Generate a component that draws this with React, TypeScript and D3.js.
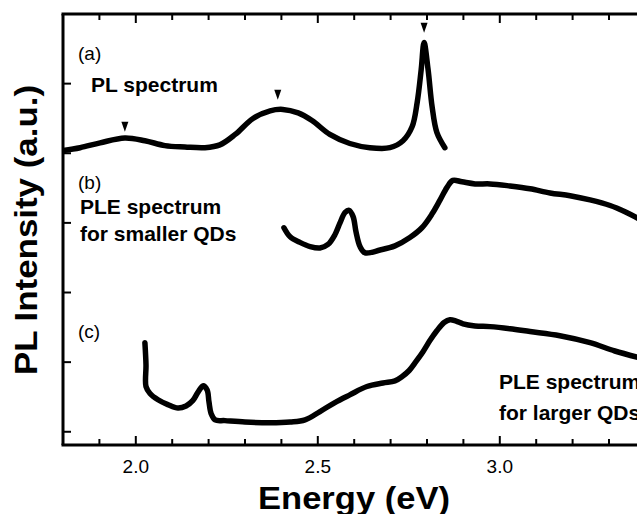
import React from 'react';
import * as d3 from 'd3';

// PL spectrum (a)
const plEnergy = [1.8, 1.847, 1.902, 1.97, 2.025, 2.08, 2.135, 2.19, 2.231, 2.273, 2.322, 2.369, 2.404, 2.446, 2.484, 2.533, 2.588, 2.643, 2.698, 2.734, 2.759, 2.773, 2.784, 2.792, 2.803, 2.814, 2.827, 2.849];
const plIntensity = [4.04, 4.08, 4.15, 4.22, 4.18, 4.11, 4.09, 4.08, 4.12, 4.27, 4.5, 4.61, 4.63, 4.58, 4.47, 4.27, 4.14, 4.08, 4.08, 4.18, 4.38, 4.73, 5.2, 5.59, 5.2, 4.67, 4.3, 4.08];

// PLE spectrum for smaller QDs (b)
const pleSmallEnergy = [2.407, 2.424, 2.451, 2.479, 2.506, 2.528, 2.547, 2.561, 2.575, 2.586, 2.597, 2.605, 2.616, 2.63, 2.671, 2.712, 2.753, 2.786, 2.814, 2.836, 2.855, 2.871, 2.896, 2.932, 2.973, 3.028, 3.083, 3.138, 3.193, 3.248, 3.303, 3.344, 3.385];
const pleSmallIntensity = [2.93, 2.8, 2.72, 2.66, 2.64, 2.69, 2.83, 3.0, 3.15, 3.18, 3.09, 2.87, 2.66, 2.57, 2.61, 2.67, 2.79, 2.93, 3.13, 3.33, 3.51, 3.61, 3.59, 3.56, 3.56, 3.53, 3.49, 3.43, 3.39, 3.33, 3.25, 3.16, 3.05];

// PLE spectrum for larger QDs (c)
const pleLargeEnergy = [2.025, 2.028, 2.028, 2.039, 2.061, 2.088, 2.116, 2.138, 2.157, 2.171, 2.185, 2.196, 2.201, 2.207, 2.218, 2.245, 2.3, 2.369, 2.424, 2.465, 2.506, 2.547, 2.588, 2.635, 2.679, 2.712, 2.731, 2.751, 2.77, 2.789, 2.808, 2.827, 2.847, 2.863, 2.88, 2.899, 2.932, 2.973, 3.028, 3.083, 3.165, 3.248, 3.316, 3.385];
const pleLargeIntensity = [1.28, 0.96, 0.65, 0.55, 0.46, 0.39, 0.34, 0.37, 0.45, 0.57, 0.66, 0.6, 0.43, 0.26, 0.17, 0.16, 0.14, 0.13, 0.14, 0.17, 0.29, 0.42, 0.53, 0.65, 0.7, 0.73, 0.79, 0.88, 1.01, 1.15, 1.31, 1.45, 1.57, 1.61, 1.59, 1.55, 1.52, 1.51, 1.48, 1.44, 1.38, 1.28, 1.16, 1.06];

// peak markers on PL
const markerEnergy = [1.97, 2.39, 2.792];
const markerIntensity = [4.31, 4.77, 5.73];

const xTickLabels = ['2.0', '2.5', '3.0'];
const yTicks = [0, 1, 2, 3, 4, 5];

const font = "'Liberation Sans', Arial, Helvetica, sans-serif";

export default function App() {
    const width = 637;
    const height = 514;
    const left = 63;
    const top = 14;
    const bottom = 445;

    const x = d3.scaleLinear().domain([1.8, 3.4]).range([left, left + 1.6 * 364]);
    const y = d3.scaleLinear().domain([-0.19, 6]).range([bottom, top]);

    const line = d3.line<[number, number]>()
        .x(d => x(d[0]))
        .y(d => y(d[1]))
        .curve(d3.curveCatmullRom.alpha(0.5));

    const series = [
        d3.zip(plEnergy, plIntensity),
        d3.zip(pleSmallEnergy, pleSmallIntensity),
        d3.zip(pleLargeEnergy, pleLargeIntensity),
    ] as [number, number][][];

    const xTicks = d3.range(18, 35).map(v => v / 10);

    return (
        <svg width={width} height={height} style={{ position: 'absolute', left: 0, top: 0, background: '#fff' }}>
            <defs>
                <clipPath id="plot">
                    <rect x={left} y={top} width={width - left} height={bottom - top} />
                </clipPath>
            </defs>

            {/* frame */}
            <g stroke="#000" strokeWidth={3} fill="none">
                <line x1={left - 1.5} x2={width} y1={top} y2={top} />
                <line x1={left - 1.5} x2={width} y1={bottom} y2={bottom} />
                <line x1={left} x2={left} y1={top} y2={bottom} />
            </g>

            {/* x ticks top and bottom */}
            <g stroke="#000" strokeWidth={2}>
                {xTicks.map(t => {
                    const major = Math.abs(t * 2 - Math.round(t * 2)) < 1e-6;
                    const len = major ? 9 : 6;
                    return (
                        <g key={t}>
                            <line x1={x(t)} x2={x(t)} y1={top} y2={top + len} />
                            <line x1={x(t)} x2={x(t)} y1={bottom} y2={bottom - len} />
                        </g>
                    );
                })}
                {yTicks.map(t => (
                    <line key={t} x1={left} x2={left + 8} y1={y(t)} y2={y(t)} />
                ))}
            </g>

            {/* x tick labels */}
            {xTickLabels.map(l => (
                <text key={l} x={x(+l)} y={473} textAnchor="middle" fontFamily={font} fontSize={19}>{l}</text>
            ))}

            {/* curves */}
            <g clipPath="url(#plot)" fill="none" stroke="#000" strokeWidth={5.5} strokeLinecap="round" strokeLinejoin="round">
                {series.map((s, i) => <path key={i} d={line(s) || ''} />)}
            </g>

            {/* peak markers */}
            {markerEnergy.map((e, i) => {
                const mx = x(e);
                const my = y(markerIntensity[i]);
                return <path key={i} d={`M${mx - 3.5},${my - 10}L${mx + 3.5},${my - 10}L${mx},${my}Z`} fill="#000" />;
            })}

            {/* annotations */}
            <g fontFamily={font} fill="#000">
                <text x={78} y={60} fontSize={19}>(a)</text>
                <text x={91} y={92} fontSize={21} fontWeight="bold">PL spectrum</text>
                <text x={78} y={189} fontSize={19}>(b)</text>
                <text x={80} y={214} fontSize={21} fontWeight="bold">PLE spectrum</text>
                <text x={80} y={241} fontSize={21} fontWeight="bold">for smaller QDs</text>
                <text x={78} y={338} fontSize={19}>(c)</text>
                <text x={499} y={389} fontSize={21} fontWeight="bold">PLE spectrum</text>
                <text x={499} y={420} fontSize={21} fontWeight="bold">for larger QDs</text>
            </g>

            {/* axis titles */}
            <text x={258} y={509} fontFamily={font} fontSize={31} fontWeight="bold" textLength={192} lengthAdjust="spacingAndGlyphs">Energy (eV)</text>
            <text transform="translate(37,230) rotate(-90)" textAnchor="middle" fontFamily={font} fontSize={31} fontWeight="bold" textLength={290} lengthAdjust="spacingAndGlyphs">PL Intensity (a.u.)</text>
        </svg>
    );
}
